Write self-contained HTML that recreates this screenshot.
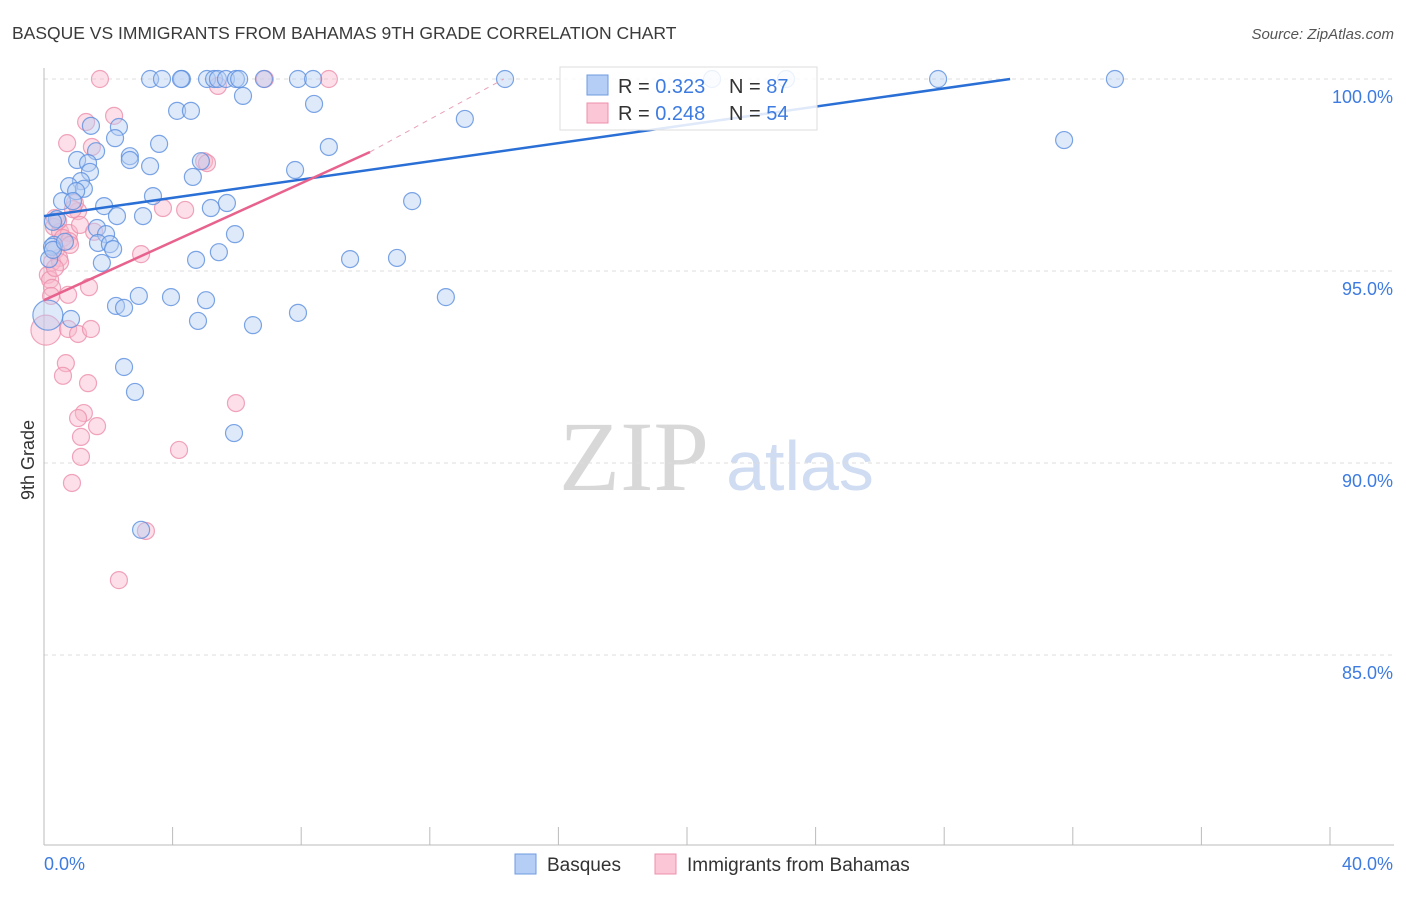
<!DOCTYPE html>
<html><head><meta charset="utf-8"><style>
body{margin:0;background:#fff;font-family:"Liberation Sans",sans-serif;}
svg text{font-family:"Liberation Sans",sans-serif;}
</style></head><body>
<svg id="c" width="1406" height="892" xmlns="http://www.w3.org/2000/svg">
<text x="12" y="39" font-size="17.5" fill="#3a3a3a">BASQUE VS IMMIGRANTS FROM BAHAMAS 9TH GRADE CORRELATION CHART</text>
<text x="1394" y="39" font-size="15" fill="#555" font-style="italic" text-anchor="end">Source: ZipAtlas.com</text>
<text x="634" y="490" font-size="100" fill="#d8d8d8" style="font-family:'Liberation Serif',serif" text-anchor="middle">ZIP</text>
<text x="800" y="490" font-size="70" fill="#cfdcf2" text-anchor="middle">atlas</text>
<g id="grid"></g><g id="pts"></g><g id="lines"></g>
<text x="34" y="460" font-size="18" fill="#333" transform="rotate(-90 34 460)" text-anchor="middle">9th Grade</text>
<g>
<rect x="560" y="67" width="257" height="63" fill="#fff" fill-opacity="0.85" stroke="#ddd"/>
<rect x="587" y="75" width="21" height="20" fill="#b5cef5" stroke="#6d9be0"/>
<rect x="587" y="103" width="21" height="20" fill="#fbc6d5" stroke="#ec8fab"/>
<text x="618" y="93" font-size="20" fill="#333">R = <tspan fill="#3d7be0">0.323</tspan></text>
<text x="729" y="93" font-size="20" fill="#333">N = <tspan fill="#3d7be0">87</tspan></text>
<text x="618" y="120" font-size="20" fill="#333">R = <tspan fill="#3d7be0">0.248</tspan></text>
<text x="729" y="120" font-size="20" fill="#333">N = <tspan fill="#3d7be0">54</tspan></text>
</g>
<g>
<rect x="515" y="854" width="21" height="20" fill="#b5cef5" stroke="#6d9be0"/>
<text x="547" y="871" font-size="19" fill="#333">Basques</text>
<rect x="655" y="854" width="21" height="20" fill="#fbc6d5" stroke="#ec8fab"/>
<text x="687" y="871" font-size="19" fill="#333">Immigrants from Bahamas</text>
</g>
</svg>
<script>
const xTicks=[0,4,8,12,16,20,24,28,32,36,40];
const yTicks=[100,95,90,85];
const yTickLabels=["100.0%","95.0%","90.0%","85.0%"];
const blueX=[3.30,3.67,4.29,4.26,5.07,5.29,5.41,5.66,5.97,6.07,6.84,7.90,8.37,14.34,20.78,23.08,27.81,33.31,6.19,8.40,4.14,4.57,13.09,1.46,2.33,2.21,3.58,1.62,8.86,31.73,2.67,1.03,2.67,1.37,3.30,4.88,1.43,7.81,1.15,4.63,0.78,1.24,1.00,3.39,0.56,0.90,1.87,11.45,5.69,5.19,2.27,3.08,0.40,0.28,1.65,1.93,5.94,0.31,0.25,1.68,2.05,2.15,5.44,0.16,1.80,4.73,9.52,10.98,12.50,2.95,3.95,5.04,2.24,2.49,7.90,0.84,4.79,6.50,0.12,2.49,2.83,5.91,3.02,0.28,0.65];
const blueY=[100,100,100,100,100,100,100,100,100,100,100,100,100,100,100,100,100,100,99.56,99.35,99.17,99.17,98.96,98.78,98.75,98.46,98.31,98.12,98.23,98.41,97.99,97.89,97.89,97.81,97.73,97.86,97.58,97.63,97.34,97.45,97.21,97.14,97.08,96.95,96.82,96.82,96.69,96.82,96.77,96.64,96.43,96.43,96.35,96.28,96.12,95.96,95.96,95.68,95.63,95.73,95.70,95.57,95.49,95.31,95.21,95.29,95.31,95.34,94.32,94.35,94.32,94.24,94.09,94.04,93.91,93.75,93.70,93.59,93.85,92.50,91.85,90.78,88.26,95.55,95.76];
const pinkX=[1.74,6.87,8.86,5.41,2.18,1.31,0.72,1.49,4.98,5.07,3.70,4.39,0.34,1.06,0.96,0.31,0.50,0.78,1.12,1.56,0.59,0.78,0.81,0.37,0.47,0.25,0.50,0.12,0.19,0.25,1.40,0.75,3.02,0.06,0.75,1.06,1.46,0.68,0.59,1.37,5.97,1.24,1.06,1.65,1.15,1.15,4.20,0.87,3.17,2.33,0.22,0.34,0.90,0.44];
const pinkY=[100,100,100,99.82,99.04,98.88,98.33,98.23,97.86,97.81,96.64,96.59,96.38,96.56,96.77,96.15,96.02,95.99,96.20,96.02,95.86,95.78,95.68,95.55,95.34,95.23,95.23,94.90,94.77,94.56,94.58,94.38,95.44,93.46,93.49,93.36,93.49,92.60,92.27,92.08,91.56,91.30,91.17,90.96,90.68,90.16,90.34,89.48,88.23,86.95,94.35,95.08,96.61,96.30];
const blueTrend=[0,96.43,30.05,100];
const pinkTrend=[0,94.24,10.14,98.10,14.3,100];
const NS="http://www.w3.org/2000/svg";
const X=v=>44+v*(1330-44)/40;
const Y=v=>79+(100-v)*38.4;
function mk(t,a,p){const e=document.createElementNS(NS,t);for(const k in a)e.setAttribute(k,a[k]);p.appendChild(e);return e;}
const grid=document.getElementById('grid');
yTicks.forEach((t,i)=>{
 const l=mk('line',{x1:44,x2:1394,y1:Y(t),y2:Y(t),stroke:'#ddd','stroke-dasharray':'4,4'},grid);
 
 
 const tx=mk('text',{x:1393,y:Y(t)+24,'font-size':18,fill:'#3d7be0','text-anchor':'end'},grid);tx.textContent=yTickLabels[i];
 
 
});
const ax=mk('line',{x1:44,x2:44,y1:68,y2:845,stroke:'#bbb'},grid);


const bx=mk('line',{x1:44,x2:1394,y1:845,y2:845,stroke:'#bbb'},grid);


xTicks.forEach(t=>{const l=mk('line',{x1:X(t),x2:X(t),y1:827,y2:845,stroke:'#bbb'},grid);
 
 });
const t0=mk('text',{x:44,y:870,'font-size':18,fill:'#3d7be0'},grid);t0.textContent="0.0%";


const t1=mk('text',{x:1393,y:870,'font-size':18,fill:'#3d7be0','text-anchor':'end'},grid);t1.textContent="40.0%";


const pts=document.getElementById('pts');
function draw(xs,ys,fill,stroke,name,bigIdx){xs.forEach((v,i)=>{
 const c=mk('circle',{cx:X(v),cy:Y(ys[i]),r:i===bigIdx?15:8.5,fill:fill,'fill-opacity':0.45,stroke:stroke,'stroke-opacity':0.8,'stroke-width':1.2},pts);
 
 });}
draw(pinkX,pinkY,'#f9b7cb','#ec8fab','bahamas-point',33);
draw(blueX,blueY,'#b5cef5','#5b8fde','basque-point',78);
const lines=document.getElementById('lines');
const bl=mk('line',{x1:X(blueTrend[0]),y1:Y(blueTrend[1]),x2:X(blueTrend[2]),y2:Y(blueTrend[3]),stroke:'#2a6fd6','stroke-width':2.5},lines);


const pl=mk('line',{x1:X(pinkTrend[0]),y1:Y(pinkTrend[1]),x2:X(pinkTrend[2]),y2:Y(pinkTrend[3]),stroke:'#e8628e','stroke-width':2.5},lines);


const pd=mk('line',{x1:X(pinkTrend[2]),y1:Y(pinkTrend[3]),x2:X(pinkTrend[4]),y2:Y(pinkTrend[5]),stroke:'#e8a0b8','stroke-width':1,'stroke-dasharray':'5,5'},lines);


</script>
</body></html>
